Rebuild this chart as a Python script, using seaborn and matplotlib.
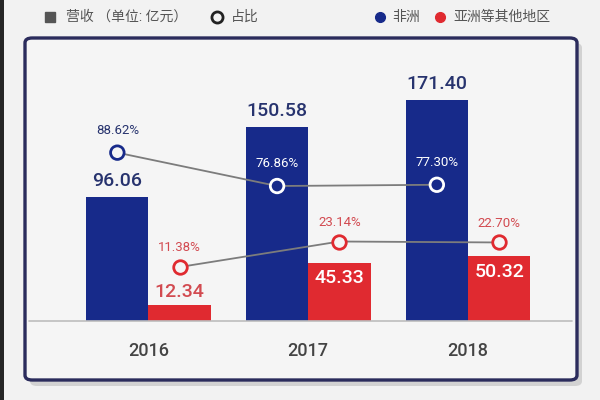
import matplotlib
matplotlib.use("Agg")
import matplotlib.pyplot as plt
from matplotlib.patches import FancyBboxPatch, Rectangle
from matplotlib.lines import Line2D
import seaborn as sns
import pandas as pd

# ---- data ----
years = ["2016", "2017", "2018"]
regions = ["非洲", "亚洲等其他地区"]
revenue_africa = [96.06, 150.58, 171.40]
revenue_other = [12.34, 45.33, 50.32]
share_africa = [88.62, 76.86, 77.30]
share_other = [11.38, 23.14, 22.70]
legend_revenue = "营收 （单位: 亿元）"
legend_share = "占比"

BLUE = "#172a8a"
RED = "#e02a30"
NAVY_TXT = "#27336e"
RED_TXT = "#d24a50"
GRAY_LINE = "#7c7c7c"
BG = "#f2f2f2"
INNER = "#f5f5f5"

sns.set_theme(style="white")
plt.rcParams["font.family"] = ["Roboto", "Noto Sans CJK SC", "DejaVu Sans"]

df = pd.DataFrame({
    "year": years * 2,
    "region": [regions[0]] * 3 + [regions[1]] * 3,
    "value": revenue_africa + revenue_other,
})

W, H = 600, 400
fig = plt.figure(figsize=(6, 4), dpi=100)
fig.patch.set_facecolor(BG)

def fx(px):
    return px / W

def fy(py):
    return 1 - py / H

# dark strip on the left edge
fig.add_artist(Rectangle((0, 0), fx(4), 1, transform=fig.transFigure,
                         facecolor="#262626", edgecolor="none", zorder=-3))
# shadow
fig.add_artist(FancyBboxPatch((fx(30), fy(386)), fx(577 - 25), fy(43) - fy(386),
                              boxstyle="round,pad=0,rounding_size=0.012",
                              transform=fig.transFigure, facecolor="#d2d2d2",
                              edgecolor="none", zorder=-2))
# frame
fig.add_artist(FancyBboxPatch((fx(25), fy(380)), fx(577 - 25), fy(38) - fy(380),
                              boxstyle="round,pad=0,rounding_size=0.012",
                              transform=fig.transFigure, facecolor=INNER,
                              edgecolor="#2b2c5c", linewidth=2.4, zorder=-1))

ax = fig.add_axes([fx(29), fy(321), fx(572 - 29), (321 - 60) / H])
ax.set_facecolor("none")

sns.barplot(data=df, x="year", y="value", hue="region", hue_order=regions,
            palette=[BLUE, RED], width=0.78, saturation=1, ax=ax,
            legend=False, edgecolor="none", linewidth=0)

ax.set_ylim(0, 261 / 1.29)
ax.set_xlim(-0.748, 2.651)
for s in ax.spines.values():
    s.set_visible(False)
ax.axhline(0, color="#bdbdbd", lw=1.2, zorder=5, clip_on=False)
ax.set_xlabel("")
ax.set_ylabel("")
ax.set_yticks([])
ax.tick_params(axis="x", length=0, pad=15, labelsize=13, labelcolor="#444444")
for t in ax.get_xticklabels():
    t.set_fontweight("medium")

blue_bars = list(ax.containers[0])
red_bars = list(ax.containers[1])
xb = [p.get_x() + p.get_width() / 2 for p in blue_bars]
xr = [p.get_x() + p.get_width() / 2 for p in red_bars]

# revenue labels
for p, v in zip(blue_bars, revenue_africa):
    ax.annotate(f"{v:.2f}", (p.get_x() + p.get_width() / 2, p.get_height()),
                xytext=(0, 11.5), textcoords="offset points", ha="center", va="center",
                fontsize=14, fontweight="medium", color=NAVY_TXT, zorder=6)
for p, v in zip(red_bars, revenue_other):
    inside = v > 30
    ax.annotate(f"{v:.2f}", (p.get_x() + p.get_width() / 2, p.get_height()),
                xytext=(0, -11.5 if inside else 9.5), textcoords="offset points",
                ha="center", va="center", fontsize=14, fontweight="medium",
                color="white" if inside else RED_TXT, zorder=6)

# share axes (one for each series)
ax2 = ax.twinx()
ax3 = ax.twinx()
ax2.set_ylim(29.28, 121.28)
ax3.set_ylim(-13.51, 106.82)
for a in (ax2, ax3):
    a.set_yticks([])
    for s in a.spines.values():
        s.set_visible(False)
    a.set_facecolor("none")

sns.lineplot(x=xb, y=share_africa, ax=ax2, sort=False, color=GRAY_LINE, lw=1.3)
sns.lineplot(x=xr, y=share_other, ax=ax3, sort=False, color=GRAY_LINE, lw=1.3)

inside_blue = [s_val < 85 for s_val in share_africa]
ax2.scatter(xb, share_africa, s=95,
            facecolors=[BLUE if i else INNER for i in inside_blue],
            edgecolors=["white" if i else BLUE for i in inside_blue],
            linewidths=2.0, zorder=5)
ax3.scatter(xr, share_other, s=95, facecolors=INNER, edgecolors=RED,
            linewidths=2.0, zorder=5)

for x, v, i in zip(xb, share_africa, inside_blue):
    ax2.annotate(f"{v:.2f}%", (x, v), xytext=(0, 16), textcoords="offset points",
                 ha="center", va="center", fontsize=9.5,
                 color="white" if i else NAVY_TXT)
for x, v in zip(xr, share_other):
    ax3.annotate(f"{v:.2f}%", (x, v), xytext=(0, 14), textcoords="offset points",
                 ha="center", va="center", fontsize=9.5, color=RED_TXT)

# legend row
ly = fy(17)
fig.add_artist(Line2D([fx(50)], [ly], marker="s", markersize=7, color="#555555",
                      linestyle="none", transform=fig.transFigure))
fig.text(fx(66), ly, legend_revenue, fontsize=10, color="#555555", va="center", ha="left")
fig.add_artist(Line2D([fx(217)], [ly], marker="o", markersize=8, markerfacecolor="none",
                      markeredgecolor="#222222", markeredgewidth=2, linestyle="none",
                      transform=fig.transFigure))
fig.text(fx(231), ly, legend_share, fontsize=10, color="#555555", va="center", ha="left")
fig.add_artist(Line2D([fx(380)], [ly], marker="o", markersize=7, color=BLUE,
                      linestyle="none", transform=fig.transFigure))
fig.text(fx(392), ly, regions[0], fontsize=10, color="#555555", va="center", ha="left")
fig.add_artist(Line2D([fx(440)], [ly], marker="o", markersize=7, color=RED,
                      linestyle="none", transform=fig.transFigure))
fig.text(fx(453), ly, regions[1], fontsize=10, color="#555555", va="center", ha="left")

fig.savefig("out.png", dpi=100, facecolor=BG)
